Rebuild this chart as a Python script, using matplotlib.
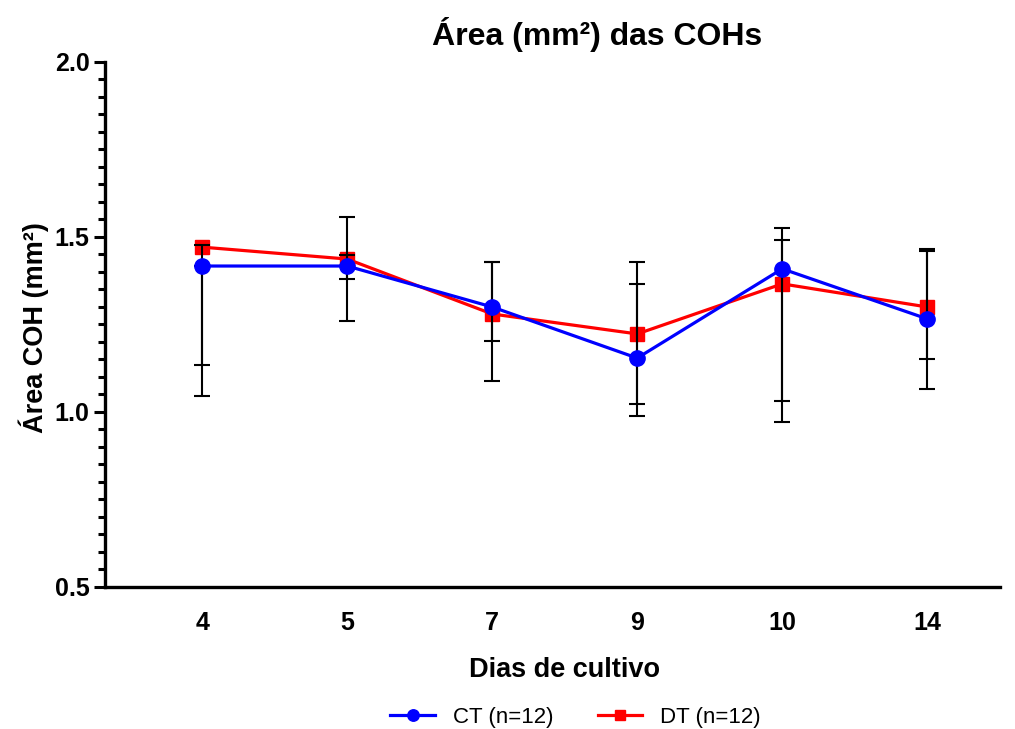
import matplotlib.pyplot as plt
import numpy as np

plt.rcParams['font.family'] = ['Liberation Sans', 'DejaVu Sans']

dias = ['4', '5', '7', '9', '10', '14']
ct_media = [1.417, 1.417, 1.300, 1.154, 1.409, 1.266]
dt_media = [1.471, 1.437, 1.280, 1.223, 1.366, 1.300]
# limites das barras de erro
ct_inf = [1.134, 1.380, 1.203, 0.989, 0.971, 1.066]
ct_sup = [1.417, 1.449, 1.429, 1.366, 1.526, 1.460]
dt_inf = [1.046, 1.260, 1.089, 1.023, 1.031, 1.151]
dt_sup = [1.477, 1.557, 1.429, 1.429, 1.491, 1.466]

x = np.arange(len(dias))
ct_m = np.array(ct_media); dt_m = np.array(dt_media)
ct_err = [ct_m - np.array(ct_inf), np.array(ct_sup) - ct_m]
dt_err = [dt_m - np.array(dt_inf), np.array(dt_sup) - dt_m]

fig = plt.figure(figsize=(10.15, 7.29), dpi=100)
ax = fig.add_axes([0.1034, 0.1948, 0.8816, 0.7202])

# red series, then error bars, then blue on top
ax.plot(x, dt_m, color='red', lw=2.3, marker='s', ms=10, zorder=2, label='DT (n=12)')
ax.errorbar(x, dt_m, yerr=dt_err, fmt='none', ecolor='black', elinewidth=1.5,
            capsize=6, capthick=1.5, zorder=3)
ax.errorbar(x, ct_m, yerr=ct_err, fmt='none', ecolor='black', elinewidth=1.5,
            capsize=6, capthick=1.5, zorder=3)
ax.plot(x, ct_m, color='blue', lw=2.3, marker='o', ms=11, zorder=4, label='CT (n=12)')

ax.set_xlim(-0.67, 5.5)
ax.set_ylim(0.5, 2.0)
ax.set_xticks(x)
ax.set_xticklabels(dias)
ax.set_yticks([0.5, 1.0, 1.5, 2.0])
ax.set_yticks(np.arange(0.5, 2.0001, 0.05), minor=True)

for s in ['top', 'right']:
    ax.spines[s].set_visible(False)
for s in ['left', 'bottom']:
    ax.spines[s].set_linewidth(2.4)

ax.tick_params(axis='y', which='major', length=8, width=2.2, labelsize=18, pad=3)
ax.tick_params(axis='y', which='minor', length=5, width=2.2)
ax.tick_params(axis='x', length=0, labelsize=18, pad=17)
for lab in ax.get_xticklabels() + ax.get_yticklabels():
    lab.set_fontweight('bold')

ax.set_xlabel('Dias de cultivo', fontsize=19.5, fontweight='bold', labelpad=16)
ax.xaxis.label.set_x(0.514)
ax.set_ylabel('Área COH (mm²)', fontsize=19.5, fontweight='bold', labelpad=4)
ax.yaxis.label.set_y(0.495)
fig.text(0.588, 0.953, 'Área (mm²) das COHs', ha='center', va='center',
         fontsize=23, fontweight='bold')

h, l = ax.get_legend_handles_labels()
fig.legend([h[1], h[0]], [l[1], l[0]], loc='center', bbox_to_anchor=(0.567, 0.016),
           ncol=2, frameon=False, fontsize=16, markerscale=0.75, handlelength=2.0,
           columnspacing=2.0)

fig.savefig('out.png', dpi=100)
